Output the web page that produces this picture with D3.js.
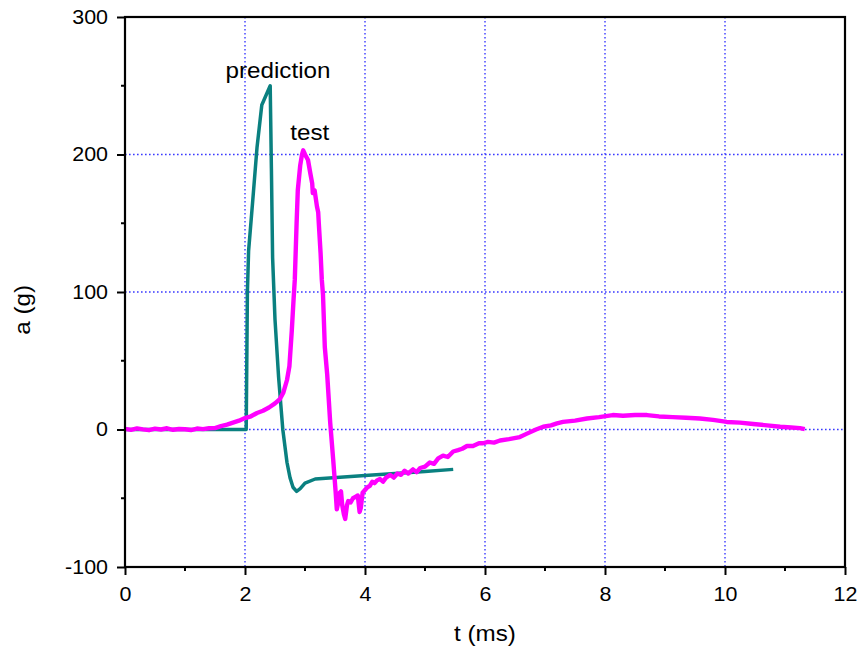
<!DOCTYPE html>
<html>
<head>
<meta charset="utf-8">
<script src="https://cdn.jsdelivr.net/npm/d3@7"></script>
<style>
  html, body { margin: 0; padding: 0; background: #fff; }
  svg { display: block; }
  text { font-family: "Liberation Sans", Arial, Helvetica, sans-serif; fill: #000; }
</style>
</head>
<body>
<svg id="chart" width="863" height="654"></svg>
<script>
// ---- data ----
const xTicks = [0, 2, 4, 6, 8, 10, 12];
const xMinorTicks = [1, 3, 5, 7, 9, 11];
const yTicks = [-100, 0, 100, 200, 300];
const yMinorTicks = [-50, 50, 150, 250];
const xGrid = [2, 4, 6, 8, 10];
const yGrid = [0, 100, 200];

const predictionT = [0, 1.0, 2.0, 2.02, 2.04, 2.06, 2.13, 2.2, 2.28, 2.42, 2.44, 2.46, 2.5, 2.56, 2.63, 2.7, 2.75, 2.8, 2.86, 2.92, 3.0, 3.17, 4.0, 5.0, 5.47];
const predictionA = [0, 0, 0, 0, 100, 130, 167, 205, 236, 250, 190, 125, 80, 38, 0, -24, -35, -42, -45, -43, -39, -36, -33.5, -30.5, -29];

const testT = [0.0, 0.1, 0.2, 0.3, 0.4, 0.5, 0.6, 0.7, 0.8, 0.9, 1.0, 1.1, 1.2, 1.3, 1.4, 1.5, 1.6, 1.7, 1.8, 1.9,
  2.0, 2.1, 2.2, 2.3, 2.4, 2.5, 2.58, 2.64, 2.7, 2.74, 2.78, 2.81, 2.83, 2.86, 2.88, 2.92, 2.95, 2.97, 3.0, 3.05,
  3.09, 3.12, 3.13, 3.16, 3.2, 3.22, 3.23, 3.26, 3.28, 3.3, 3.33, 3.37, 3.42, 3.47, 3.51, 3.53, 3.56, 3.58, 3.6, 3.62,
  3.65, 3.67, 3.7, 3.72, 3.76, 3.8, 3.84, 3.88, 3.91, 3.93, 3.96, 4.0, 4.04, 4.08, 4.12, 4.16, 4.2, 4.25, 4.3, 4.35,
  4.42, 4.48, 4.54, 4.6, 4.66, 4.72, 4.8, 4.86, 4.92, 5.0, 5.08, 5.15, 5.22, 5.3, 5.38, 5.47, 5.55, 5.62, 5.7, 5.8,
  5.9, 5.97, 6.05, 6.15, 6.25, 6.4, 6.58, 6.7, 6.85, 6.97, 7.1, 7.2, 7.3, 7.5, 7.7, 7.9, 8.13, 8.3, 8.5, 8.7,
  8.9, 9.13, 9.35, 9.58, 9.8, 10.03, 10.25, 10.47, 10.7, 10.92, 11.1, 11.25, 11.33];
const testA = [0.5, -0.3, 0.8, 0.1, -0.5, 0.6, 0.0, 0.9, -0.2, 0.4, 0.2, -0.4, 0.7, 0.3, 0.9, 1.0, 2.5, 3.6, 5.0, 6.4,
  8.3, 9.6, 12.0, 13.6, 16.0, 19.0, 22, 27, 36, 46, 72, 95, 109, 150, 174, 192, 200, 203, 200, 196,
  186, 179, 172, 174, 162, 158, 150, 128, 109, 98, 60, 40, 5, -22, -45, -58, -52, -46, -45, -55,
  -62, -65, -55, -52, -53, -50, -49, -48, -60, -57, -46, -44, -42, -41, -38, -39, -37, -36, -38, -35,
  -33, -35, -32, -33, -30, -32, -29, -31, -28, -27, -24, -25, -21, -19, -20, -16, -15, -14, -12, -12,
  -10, -10, -9, -9.5, -8, -7, -5.5, -3, 0, 2, 3, 4.5, 5.5, 6.5, 8, 9, 10.5, 10, 10.5, 10.5,
  9.5, 9, 8.5, 8, 7, 5.5, 5, 4, 3, 2, 1.5, 1, 0.3];

const labels = { prediction: "prediction", test: "test", xTitle: "t (ms)", yTitle: "a (g)" };

// ---- layout ----
const W = 863, H = 654;
const m = { left: 125, right: 18, top: 17, bottom: 87 };
const pw = W - m.left - m.right, ph = H - m.top - m.bottom;

const svg = d3.select("#chart");
const g = svg.append("g").attr("transform", `translate(${m.left},${m.top})`);

const x = d3.scaleLinear().domain([0, 12]).range([0, pw]);
const y = d3.scaleLinear().domain([-100, 300]).range([ph, 0]);

// grid
const gridStyle = s => s.attr("stroke", "#3a3aff").attr("stroke-width", 1.4)
  .attr("stroke-dasharray", "1.6,2.4").attr("fill", "none");
g.append("g").selectAll("line").data(xGrid).join("line")
  .attr("x1", d => x(d)).attr("x2", d => x(d)).attr("y1", 0).attr("y2", ph).call(gridStyle);
g.append("g").selectAll("line").data(yGrid).join("line")
  .attr("x1", 0).attr("x2", pw).attr("y1", d => y(d)).attr("y2", d => y(d)).call(gridStyle);

// lines
const line = d3.line().x(d => x(d[0])).y(d => y(d[1]));
const predData = predictionT.map((t, i) => [t, predictionA[i]]);
const testData = testT.map((t, i) => [t, testA[i]]);

g.append("path").datum(predData).attr("d", line)
  .attr("fill", "none").attr("stroke", "#0a8080").attr("stroke-width", 3.5)
  .attr("stroke-linejoin", "round");
g.append("path").datum(testData).attr("d", line)
  .attr("fill", "none").attr("stroke", "#ff00ff").attr("stroke-width", 4.4)
  .attr("stroke-linejoin", "round");

// axes
const stretch = sel => sel.each(function () {
  const L = this.getComputedTextLength();
  d3.select(this).attr("textLength", L * 1.1).attr("lengthAdjust", "spacingAndGlyphs");
});
const fmt = d => String(d);

const xAxis = g.append("g").attr("transform", `translate(0,${ph})`)
  .call(d3.axisBottom(x).tickValues(xTicks).tickFormat(fmt).tickSize(8).tickPadding(12));
const yAxis = g.append("g")
  .call(d3.axisLeft(y).tickValues(yTicks).tickFormat(fmt).tickSize(8).tickPadding(9));
[xAxis, yAxis].forEach(a => {
  a.select(".domain").remove();
  a.selectAll(".tick line").attr("stroke", "#000").attr("stroke-width", 2);
  a.selectAll(".tick text").style("font-size", "19.5px").attr("fill", "#000").call(stretch);
});

// minor ticks
g.append("g").selectAll("line").data(xMinorTicks).join("line")
  .attr("x1", d => x(d)).attr("x2", d => x(d)).attr("y1", ph).attr("y2", ph + 4)
  .attr("stroke", "#000").attr("stroke-width", 2);
g.append("g").selectAll("line").data(yMinorTicks).join("line")
  .attr("x1", 0).attr("x2", -4).attr("y1", d => y(d)).attr("y2", d => y(d))
  .attr("stroke", "#000").attr("stroke-width", 2);

// frame
g.append("rect").attr("x", 0).attr("y", 0).attr("width", pw).attr("height", ph)
  .attr("fill", "none").attr("stroke", "#000").attr("stroke-width", 2.2);

// titles
svg.append("text").attr("x", m.left + x(6)).attr("y", 641).attr("text-anchor", "middle")
  .style("font-size", "22px").text(labels.xTitle).call(stretch);
svg.append("text").attr("transform", `translate(30,${m.top + y(87)}) rotate(-90)`)
  .attr("text-anchor", "middle").style("font-size", "22px").text(labels.yTitle).call(stretch);

// annotations
svg.append("text").attr("x", m.left + x(2.55)).attr("y", 78).attr("text-anchor", "middle")
  .style("font-size", "22px").text(labels.prediction).call(stretch);
svg.append("text").attr("x", m.left + x(3.08)).attr("y", 140).attr("text-anchor", "middle")
  .style("font-size", "22px").text(labels.test).call(stretch);
</script>
</body>
</html>
